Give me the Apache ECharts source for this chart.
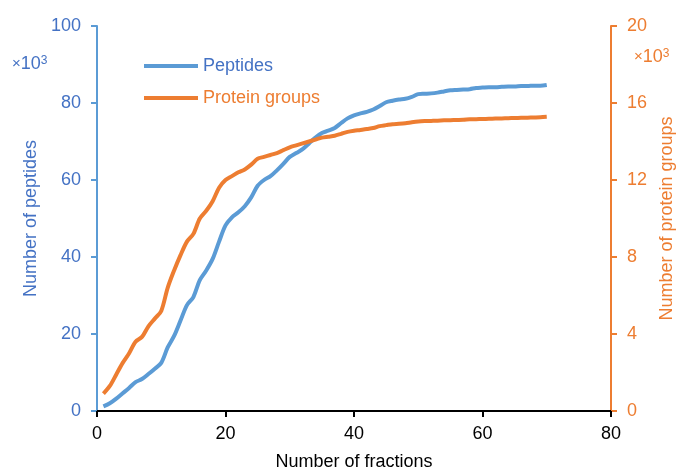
<!DOCTYPE html>
<html>
<head>
<meta charset="utf-8">
<script src="https://cdn.jsdelivr.net/npm/echarts@6/dist/echarts.min.js"></script>
<style>
  html, body { margin: 0; padding: 0; background: #fff; }
  #chart { width: 676px; height: 470px; }
</style>
</head>
<body>
<div id="chart"></div>
<script>
// fraction number 1..70
var fractions = [
  1, 2, 3, 4, 5, 6, 7, 8, 9, 10,
  11, 12, 13, 14, 15, 16, 17, 18, 19, 20,
  21, 22, 23, 24, 25, 26, 27, 28, 29, 30,
  31, 32, 33, 34, 35, 36, 37, 38, 39, 40,
  41, 42, 43, 44, 45, 46, 47, 48, 49, 50,
  51, 52, 53, 54, 55, 56, 57, 58, 59, 60,
  61, 62, 63, 64, 65, 66, 67, 68, 69, 70
]
// cumulative peptides (x10^3), left axis
var peptides = [
  1.2, 2.0, 3.2, 4.6, 6.0, 7.5, 8.3, 9.6, 11.0, 12.5,
  16.5, 19.5, 23.5, 27.5, 29.6, 34.0, 36.5, 39.5, 44.0, 48.2,
  50.3, 51.6, 53.2, 55.5, 58.5, 60.0, 61.0, 62.5, 64.2, 66.0,
  67.0, 68.0, 69.5, 71.0, 72.2, 72.8, 73.5, 74.8, 76.0, 76.8,
  77.3, 77.7, 78.3, 79.2, 80.2, 80.6, 80.9, 81.1, 81.6, 82.3,
  82.4, 82.5, 82.7, 83.0, 83.3, 83.4, 83.5, 83.6, 83.9, 84.0,
  84.1, 84.1, 84.2, 84.3, 84.3, 84.4, 84.4, 84.5, 84.5, 84.7
]
// cumulative protein groups (x10^3), right axis
var proteinGroups = [
  0.9, 1.3, 1.9, 2.5, 3.0, 3.6, 3.85, 4.4, 4.8, 5.2,
  6.4, 7.3, 8.1, 8.8, 9.2, 10.0, 10.4, 10.9, 11.6, 12.0,
  12.2, 12.4, 12.55, 12.8, 13.1, 13.2, 13.3, 13.4, 13.55, 13.7,
  13.8, 13.9, 14.0, 14.1, 14.2, 14.25, 14.3, 14.4, 14.5, 14.56,
  14.6, 14.65, 14.7, 14.8, 14.85, 14.9, 14.92, 14.95, 15.0, 15.04,
  15.06, 15.07, 15.08, 15.1, 15.11, 15.12, 15.13, 15.15, 15.16, 15.17,
  15.18, 15.19, 15.2, 15.21, 15.22, 15.23, 15.24, 15.25, 15.26, 15.28
]

var blue = '#5B9BD5'
var blueText = '#4472C4'
var orange = '#ED7D31'
var font = 'Liberation Sans, Arial, sans-serif'

var chart = echarts.init(document.getElementById('chart'))

function pairs(ys) {
  return fractions.map(function (f, i) { return [f, ys[i]] })
}

chart.setOption({
  animation: false,
  textStyle: { fontFamily: font },
  grid: { left: 97, right: 65, top: 26, bottom: 59, containLabel: false, outerBoundsMode: 'none' },
  legend: {
    orient: 'vertical',
    left: 139,
    top: 52,
    itemWidth: 54,
    itemHeight: 4,
    itemGap: 14,
    icon: 'rect',
    data: [
      { name: 'Peptides', textStyle: { color: blueText } },
      { name: 'Protein groups', textStyle: { color: orange } }
    ],
    textStyle: { fontSize: 18, fontFamily: font }
  },
  xAxis: {
    type: 'value',
    min: 0,
    max: 80,
    interval: 20,
    name: 'Number of fractions',
    nameLocation: 'middle',
    nameGap: 42,
    nameTextStyle: { color: '#000', fontSize: 18 },
    axisLine: { lineStyle: { color: '#000', width: 2 } },
    axisTick: { length: 6, lineStyle: { color: '#000', width: 2 } },
    axisLabel: { color: '#000', fontSize: 18, margin: 14 },
    splitLine: { show: false }
  },
  yAxis: [{
    type: 'value',
    min: 0,
    max: 100,
    interval: 20,
    position: 'left',
    name: 'Number of peptides',
    nameLocation: 'middle',
    nameGap: 54,
    nameTextStyle: { color: blueText, fontSize: 18 },
    axisLine: { show: true, lineStyle: { color: blue, width: 2 } },
    axisTick: { show: true, length: 6, lineStyle: { color: blue, width: 2 } },
    axisLabel: { color: blueText, fontSize: 18, margin: 16 },
    splitLine: { show: false }
  }, {
    type: 'value',
    min: 0,
    max: 20,
    interval: 4,
    position: 'right',
    name: 'Number of protein groups',
    nameLocation: 'middle',
    nameGap: 46,
    nameTextStyle: { color: orange, fontSize: 18 },
    axisLine: { show: true, lineStyle: { color: orange, width: 2 } },
    axisTick: { show: true, length: 6, lineStyle: { color: orange, width: 2 } },
    axisLabel: { color: orange, fontSize: 18, margin: 16 },
    splitLine: { show: false }
  }],
  graphic: [{
    type: 'text',
    left: 12,
    top: 55,
    style: {
      text: '{a|×}{b|10}{c|3}',
      rich: {
        a: { fontSize: 15, fill: blueText, fontFamily: font },
        b: { fontSize: 18, fill: blueText, fontFamily: font },
        c: { fontSize: 12, fill: blueText, fontFamily: font, verticalAlign: 'top' }
      }
    }
  }, {
    type: 'text',
    left: 634,
    top: 48,
    style: {
      text: '{a|×}{b|10}{c|3}',
      rich: {
        a: { fontSize: 15, fill: orange, fontFamily: font },
        b: { fontSize: 18, fill: orange, fontFamily: font },
        c: { fontSize: 12, fill: orange, fontFamily: font, verticalAlign: 'top' }
      }
    }
  }],
  series: [{
    name: 'Peptides',
    type: 'line',
    yAxisIndex: 0,
    data: pairs(peptides),
    symbol: 'none',
    smooth: 0.3,
    lineStyle: { color: blue, width: 4 },
    itemStyle: { color: blue }
  }, {
    name: 'Protein groups',
    type: 'line',
    yAxisIndex: 1,
    data: pairs(proteinGroups),
    symbol: 'none',
    smooth: 0.3,
    lineStyle: { color: orange, width: 4 },
    itemStyle: { color: orange }
  }]
})
</script>
</body>
</html>
